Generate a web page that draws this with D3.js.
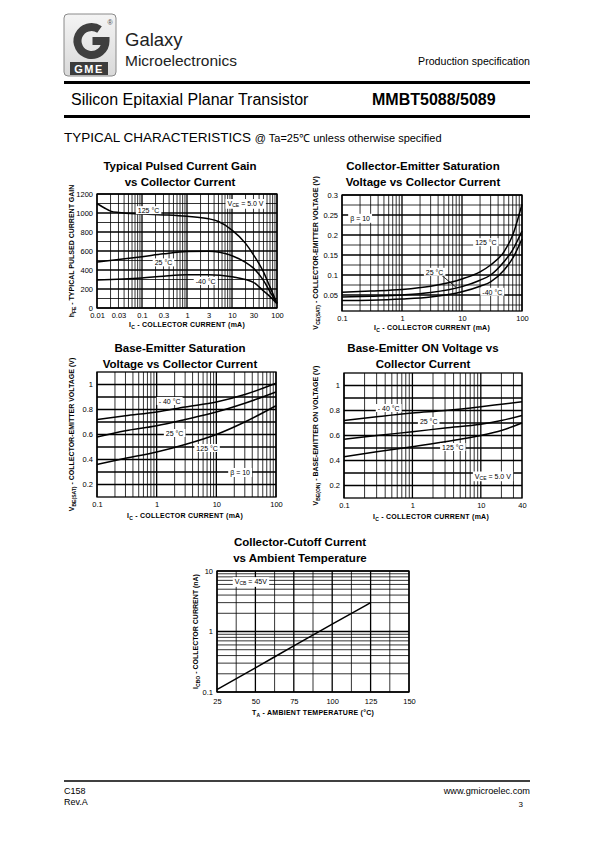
<!DOCTYPE html>
<html><head><meta charset="utf-8">
<script src="https://cdn.jsdelivr.net/npm/d3@7"></script>
<style>body{margin:0;background:#fff}svg{display:block}text{font-family:"Liberation Sans",Arial,sans-serif}</style>
</head><body><script>
// ---------------- DATA ----------------
// Chart 1: Typical pulsed current gain vs collector current
const gainIc125 = [0.01,0.015,0.02,0.03,0.1,0.3,1,3,5,10,20,30,50,70,100];
const gain125   = [1100,1050,1020,1005,990,980,965,940,910,820,680,560,380,220,50];
const gainIc25  = [0.01,0.03,0.1,0.3,1,3,10,20,30,50,70,100];
const gain25    = [485,510,540,570,595,598,550,480,420,290,170,50];
const gainIcM40 = [0.01,0.1,0.3,1,3,10,20,30,50,70,100];
const gainM40   = [295,315,335,350,350,330,300,270,180,120,45];
const gainXTicks = [0.01,0.03,0.1,0.3,1,3,10,30,100];
const gainXTickLabels = ["0.01","0.03","0.1","0.3","1","3","10","30","100"];
const gainYTicks = [0,200,400,600,800,1000,1200];

// Chart 2: VCE(sat) vs IC
const vceIc   = [0.1,0.3,1,3,10,20,30,50,70,100];
const vce125  = [0.057,0.06,0.064,0.072,0.09,0.108,0.125,0.158,0.2,0.277];
const vce25   = [0.045,0.047,0.05,0.056,0.071,0.087,0.1,0.133,0.163,0.21];
const vceM40  = [0.036,0.037,0.04,0.045,0.058,0.072,0.083,0.112,0.142,0.19];
const vceYTicks = [0.05,0.1,0.15,0.2,0.25,0.3];
const decadeTicks = [0.1,1,10,100];

// Chart 3: VBE(sat) vs IC
const vbeSatIc  = [0.1,0.3,1,3,10,30,100];
const vbeSatM40 = [0.72,0.75,0.78,0.82,0.86,0.92,1.01];
const vbeSat25  = [0.58,0.63,0.67,0.72,0.78,0.85,0.94];
const vbeSat125 = [0.36,0.41,0.46,0.52,0.6,0.7,0.83];
const vbeYTicks = [0.2,0.4,0.6,0.8,1];

// Chart 4: VBE(on) vs IC
const vbeOnIc  = [0.1,0.3,1,3,10,20,40];
const vbeOnM40 = [0.72,0.75,0.78,0.80,0.83,0.85,0.87];
const vbeOn25  = [0.57,0.60,0.63,0.66,0.69,0.72,0.76];
const vbeOn125 = [0.43,0.47,0.51,0.55,0.60,0.64,0.70];
const vbeOnXTicks = [0.1,1,10,40];

// Chart 5: ICBO vs ambient temperature
const cutoffTemp = [25,50,75,100,125];
const cutoffIcbo = [0.11,0.25,0.58,1.32,3.0];
const cutoffXTicks = [25,50,75,100,125,150];
const cutoffYTicks = [0.1,1,10];

// ---------------- HELPERS ----------------
const FONT = '"Liberation Sans",Arial,sans-serif';
const svg = d3.select("body").append("svg").attr("width",595).attr("height",842);

function logGrid(a,b){const out=[];for(let e=Math.floor(Math.log10(a))-1;e<=Math.ceil(Math.log10(b));e++){for(let k=1;k<10;k++){const v=+(k*Math.pow(10,e)).toPrecision(6);if(v>=a*0.999&&v<=b*1.001)out.push(v);}}return out;}
function linGrid(a,b,s){const out=[];for(let v=a;v<=b+1e-9;v+=s)out.push(+v.toFixed(6));return out;}
function isDecade(v){const l=Math.log10(v);return Math.abs(l-Math.round(l))<1e-6;}

function rich(t,parts,fs){
  let prevSub=false;
  parts.forEach(([s,sub])=>{
    const ts=t.append("tspan").text(s);
    if(sub){ts.attr("font-size",fs*0.72).attr("dy",fs*0.32);}
    else if(prevSub){ts.attr("dy",-fs*0.32);}
    prevSub=!!sub;
  });
  return t;
}

function tag(g,px,py,parts,fs,bold){
  const t=g.append("text").attr("x",px).attr("y",py).attr("text-anchor","middle")
    .attr("dominant-baseline","central").attr("font-size",fs).attr("font-family",FONT)
    .attr("font-weight",bold?"bold":"normal");
  rich(t,parts,fs);
  const b=t.node().getBBox();
  g.insert("rect",()=>t.node()).attr("x",b.x-2).attr("y",b.y-0.5).attr("width",b.width+4).attr("height",b.height+1).attr("fill","#fff");
}

function panel(c){
  const g=svg.append("g");
  const x=(c.xLog?d3.scaleLog():d3.scaleLinear()).domain(c.xDomain).range([c.left,c.right]);
  const y=(c.yLog?d3.scaleLog():d3.scaleLinear()).domain(c.yDomain).range([c.bottom,c.top]);
  c.title.forEach((t,i)=>g.append("text").attr("x",c.titleX).attr("y",c.titleY+i*15.5)
    .attr("text-anchor","middle").attr("font-weight","bold").attr("font-size",11.5).text(t));
  g.append("g").selectAll("line").data(c.xGrid).join("line")
    .attr("x1",d=>x(d)).attr("x2",d=>x(d)).attr("y1",c.top).attr("y2",c.bottom)
    .attr("stroke","#000").attr("stroke-width",d=>c.xMajor(d)?1.3:0.8);
  g.append("g").selectAll("line").data(c.yGrid).join("line")
    .attr("y1",d=>y(d)).attr("y2",d=>y(d)).attr("x1",c.left).attr("x2",c.right)
    .attr("stroke","#000").attr("stroke-width",d=>c.yMajor(d)?1.3:0.8);
  g.append("rect").attr("x",c.left).attr("y",c.top).attr("width",c.right-c.left).attr("height",c.bottom-c.top)
    .attr("fill","none").attr("stroke","#000").attr("stroke-width",1.3);
  const xa=d3.axisBottom(x).tickValues(c.xTicks).tickFormat((d,i)=>c.xTickLabels[i]).tickSize(0).tickPadding(c.xPad||5);
  g.append("g").attr("transform",`translate(0,${c.bottom})`).call(xa)
    .call(s=>s.select(".domain").remove()).attr("font-family",FONT).attr("font-size",7.5);
  const ya=d3.axisLeft(y).tickValues(c.yTicks).tickFormat((d,i)=>c.yTickLabels[i]).tickSize(0).tickPadding(4);
  g.append("g").attr("transform",`translate(${c.left},0)`).call(ya)
    .call(s=>s.select(".domain").remove()).attr("font-family",FONT).attr("font-size",7.5);
  const line=d3.line().x(d=>x(d[0])).y(d=>y(d[1])).curve(d3.curveMonotoneX);
  c.series.forEach(s=>{
    g.append("path").datum(d3.zip(s.x,s.y)).attr("d",line).attr("fill","none")
      .attr("stroke","#000").attr("stroke-width",1.5);
  });
  (c.leaders||[]).forEach(l=>g.append("line").attr("x1",x(l[0])).attr("y1",y(l[1])).attr("x2",x(l[2])).attr("y2",y(l[3])).attr("stroke","#000").attr("stroke-width",0.8));
  c.labels.forEach(l=>tag(g,x(l.x),y(l.y),l.parts,7,false));
  const cy=(c.top+c.bottom)/2;
  const yl=g.append("text").attr("transform",`translate(${c.yLabelX},${c.yLabelY||cy}) rotate(-90)`)
    .attr("text-anchor","middle").attr("font-size",7).attr("font-weight","bold").attr("font-family",FONT);
  rich(yl,c.yLabel,7);
  const xl=g.append("text").attr("x",c.xLabelX).attr("y",c.xLabelY).attr("text-anchor","middle")
    .attr("font-size",7).attr("font-weight","bold").attr("letter-spacing",0.25).attr("font-family",FONT);
  rich(xl,c.xLabel,7);
}

const icLabel=[["I",0],["C",1],[" - COLLECTOR CURRENT  (mA)",0]];

// ---------------- HEADER ----------------
const defs=svg.append("defs");
const lg=defs.append("linearGradient").attr("id","logoBg").attr("x1",0).attr("y1",0).attr("x2",0).attr("y2",1);
lg.append("stop").attr("offset","0%").attr("stop-color","#f4f4f4");
lg.append("stop").attr("offset","100%").attr("stop-color","#d9d9d9");
svg.append("rect").attr("x",64).attr("y",14).attr("width",52).attr("height",62).attr("rx",4)
  .attr("fill","url(#logoBg)").attr("stroke","#8a8a8a").attr("stroke-width",1);
{
  const cx=91.5,cy=41,r=14,a=-55*Math.PI/180;
  svg.append("path").attr("d",`M${cx+r*Math.cos(a)},${cy+r*Math.sin(a)} A${r},${r} 0 1 0 ${cx+r},${cy} L${cx+1},${cy}`)
    .attr("fill","none").attr("stroke","#3f3f3f").attr("stroke-width",8);
}
svg.append("rect").attr("x",70).attr("y",62).attr("width",38).attr("height",13).attr("fill","#3c3c3c");
svg.append("text").attr("x",89).attr("y",73).attr("text-anchor","middle").attr("fill","#fff")
  .attr("font-size",11).attr("font-weight","bold").attr("letter-spacing",1.5).text("GME");
svg.append("text").attr("x",110).attr("y",25).attr("text-anchor","middle").attr("font-size",7).attr("fill","#444").text("®");
svg.append("text").attr("x",125).attr("y",46).attr("font-family","'Open Sans',sans-serif").attr("font-size",18.5).attr("fill","#222").text("Galaxy");
svg.append("text").attr("x",125).attr("y",65.5).attr("font-family","'Open Sans',sans-serif").attr("font-size",15.5).attr("fill","#222").text("Microelectronics");
svg.append("text").attr("x",530).attr("y",65).attr("text-anchor","end").attr("font-size",10.6).text("Production specification");
svg.append("line").attr("x1",64).attr("x2",530).attr("y1",82.5).attr("y2",82.5).attr("stroke","#000").attr("stroke-width",3);
svg.append("text").attr("x",71).attr("y",104.5).attr("font-size",16).text("Silicon Epitaxial Planar Transistor");
svg.append("text").attr("x",372).attr("y",104.5).attr("font-size",16).attr("font-weight","bold").text("MMBT5088/5089");
svg.append("line").attr("x1",64).attr("x2",530).attr("y1",116.5).attr("y2",116.5).attr("stroke","#000").attr("stroke-width",3);
{
  const t=svg.append("text").attr("x",64).attr("y",141.5);
  t.append("tspan").attr("font-size",13.5).text("TYPICAL CHARACTERISTICS ");
  t.append("tspan").attr("font-size",11).text("@ Ta=25℃ unless otherwise specified");
}

// ---------------- CHARTS ----------------
panel({
  title:["Typical Pulsed Current Gain","vs Collector Current"],titleX:180,titleY:170,
  left:97,right:277,top:194,bottom:308,
  xLog:true,xDomain:[0.01,100],yDomain:[0,1200],
  xGrid:logGrid(0.01,100),xMajor:isDecade,
  yGrid:linGrid(0,1200,100),yMajor:d=>d%200===0,
  xTicks:gainXTicks,xTickLabels:gainXTickLabels,
  yTicks:gainYTicks,yTickLabels:gainYTicks.map(String),
  series:[{x:gainIc125,y:gain125},{x:gainIc25,y:gain25},{x:gainIcM40,y:gainM40}],
  labels:[
    {x:0.14,y:1030,parts:[["125 °C",0]]},
    {x:0.3,y:480,parts:[["25 °C",0]]},
    {x:2.6,y:285,parts:[["-40 °C",0]]},
    {x:20,y:1105,parts:[["V",0],["CE",1],[" = 5.0 V",0]]}
  ],
  yLabelX:74,yLabel:[["h",0],["FE",1],[" - TYPICAL PULSED CURRENT GAIN",0]],
  xLabelX:187,xLabelY:327,xLabel:icLabel
});

panel({
  title:["Collector-Emitter Saturation","Voltage vs Collector Current"],titleX:423,titleY:170,
  left:342,right:522,top:195,bottom:311,
  xLog:true,xDomain:[0.1,100],yDomain:[0.01,0.3],
  xGrid:logGrid(0.1,100),xMajor:isDecade,
  yGrid:linGrid(0.025,0.3,0.025),yMajor:d=>Math.abs(d/0.05-Math.round(d/0.05))<1e-6,
  xTicks:decadeTicks,xTickLabels:["0.1","1","10","100"],
  yTicks:vceYTicks,yTickLabels:["0.05","0.1","0.15","0.2","0.25","0.3"],
  series:[{x:vceIc,y:vce125},{x:vceIc,y:vce25},{x:vceIc,y:vceM40}],
  leaders:[[4.6,0.099,8,0.069]],
  labels:[
    {x:25,y:0.182,parts:[["125 °C",0]]},
    {x:3.5,y:0.108,parts:[["25 °C",0]]},
    {x:32,y:0.058,parts:[["-40 °C",0]]},
    {x:0.2,y:0.243,parts:[["β  = 10",0]]}
  ],
  yLabelX:318,yLabel:[["V",0],["CE(SAT)",1],[" - COLLECTOR-EMITTER VOLTAGE (V)",0]],
  xLabelX:432,xLabelY:330,xLabel:icLabel
});

panel({
  title:["Base-Emitter Saturation","Voltage vs Collector Current"],titleX:180,titleY:352,
  left:97,right:276,top:372,bottom:497,
  xLog:true,xDomain:[0.1,100],yDomain:[0.1,1.1],
  xGrid:logGrid(0.1,100),xMajor:isDecade,
  yGrid:linGrid(0.2,1.0,0.1),yMajor:d=>true,
  xTicks:decadeTicks,xTickLabels:["0.1","1","10","100"],
  yTicks:vbeYTicks,yTickLabels:["0.2","0.4","0.6","0.8","1"],
  series:[{x:vbeSatIc,y:vbeSatM40},{x:vbeSatIc,y:vbeSat25},{x:vbeSatIc,y:vbeSat125}],
  labels:[
    {x:1.65,y:0.868,parts:[["- 40 °C",0]]},
    {x:2,y:0.612,parts:[["25 °C",0]]},
    {x:7,y:0.492,parts:[["125 °C",0]]},
    {x:25,y:0.3,parts:[["β  = 10",0]]}
  ],
  yLabelX:74,yLabel:[["V",0],["BE(SAT)",1],[" - COLLECTOR-EMITTER VOLTAGE (V)",0]],
  xLabelX:185,xLabelY:518,xLabel:icLabel
});

panel({
  title:["Base-Emitter ON Voltage vs","Collector Current"],titleX:423,titleY:352,
  left:344,right:522,top:373,bottom:498,
  xLog:true,xDomain:[0.1,40],yDomain:[0.1,1.1],
  xGrid:logGrid(0.1,40),xMajor:isDecade,
  yGrid:linGrid(0.2,1.0,0.1),yMajor:d=>true,
  xTicks:vbeOnXTicks,xTickLabels:["0.1","1","10","40"],
  yTicks:vbeYTicks,yTickLabels:["0.2","0.4","0.6","0.8","1"],
  series:[{x:vbeOnIc,y:vbeOnM40},{x:vbeOnIc,y:vbeOn25},{x:vbeOnIc,y:vbeOn125}],
  labels:[
    {x:0.45,y:0.82,parts:[["- 40 °C",0]]},
    {x:1.73,y:0.716,parts:[["25 °C",0]]},
    {x:3.9,y:0.508,parts:[["125 °C",0]]},
    {x:15,y:0.28,parts:[["V",0],["CE",1],[" = 5.0  V",0]]}
  ],
  yLabelX:318,yLabel:[["V",0],["BE(ON)",1],[" - BASE-EMITTER ON VOLTAGE (V)",0]],
  xLabelX:431,xLabelY:519,xLabel:icLabel
});

panel({
  title:["Collector-Cutoff Current","vs Ambient Temperature"],titleX:300,titleY:546,
  left:217,right:409,top:571,bottom:692,
  xLog:false,yLog:true,xDomain:[25,150],yDomain:[0.1,10],
  xGrid:linGrid(25,150,12.5),xMajor:d=>d%25===0,
  yGrid:logGrid(0.1,10),yMajor:isDecade,
  xTicks:cutoffXTicks,xTickLabels:cutoffXTicks.map(String),xPad:7,
  yTicks:cutoffYTicks,yTickLabels:["0.1","1","10"],
  series:[{x:cutoffTemp,y:cutoffIcbo}],
  labels:[{x:47,y:6.8,parts:[["V",0],["CB",1],[" = 45V",0]]}],
  yLabelX:198,yLabel:[["I",0],["CBO",1],[" - COLLECTOR CURRENT (nA)",0]],
  xLabelX:313,xLabelY:715,xLabel:[["T",0],["A",1],[" - AMBIENT TEMPERATURE (°C)",0]]
});

// ---------------- FOOTER ----------------
svg.append("line").attr("x1",64).attr("x2",530).attr("y1",781).attr("y2",781).attr("stroke","#000").attr("stroke-width",1.3);
svg.append("text").attr("x",64).attr("y",794).attr("font-size",9).text("C158");
svg.append("text").attr("x",64).attr("y",805).attr("font-size",9).text("Rev.A");
svg.append("text").attr("x",530).attr("y",794).attr("text-anchor","end").attr("font-size",9.2).text("www.gmicroelec.com");
svg.append("text").attr("x",523).attr("y",807).attr("text-anchor","end").attr("font-size",8).attr("font-family","'Liberation Serif',serif").text("3");
</script></body></html>
